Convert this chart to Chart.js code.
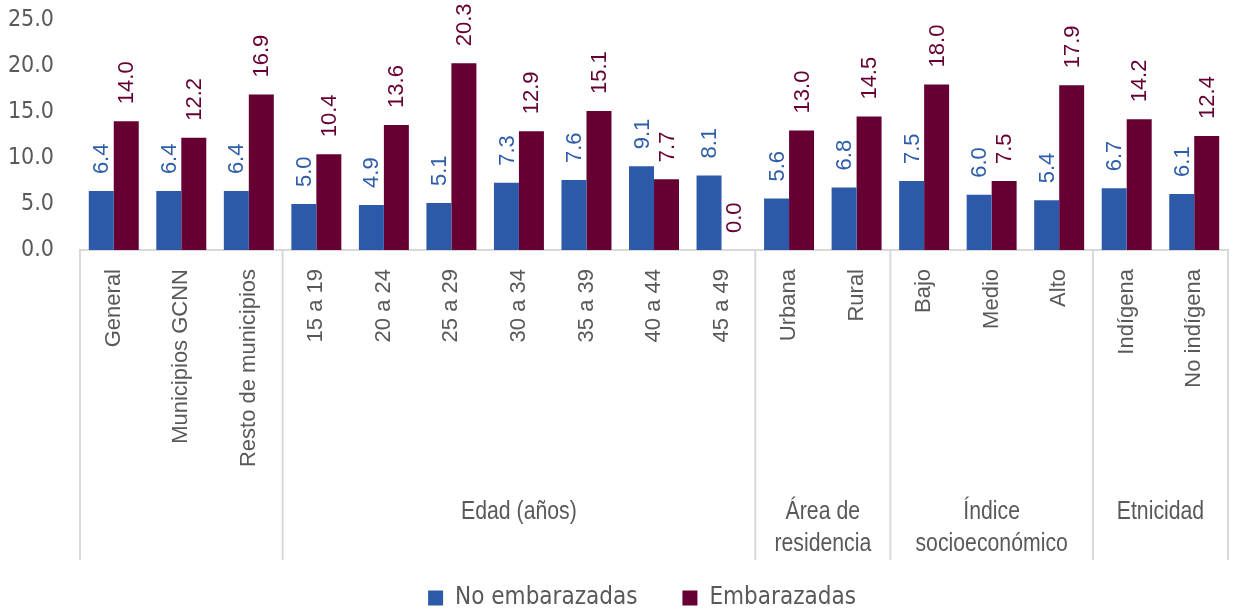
<!DOCTYPE html>
<html>
<head>
<meta charset="utf-8">
<script src="https://cdn.jsdelivr.net/npm/chart.js@4"></script>
<style>
  html, body { margin: 0; padding: 0; background: #fff; }
  #wrap { width: 1233px; height: 614px; }
</style>
</head>
<body>
<div id="wrap"><canvas id="chart" width="1233" height="614"></canvas></div>
<script>
// Categories and values
const categories = [
  "General", "Municipios GCNN", "Resto de municipios",
  "15 a 19", "20 a 24", "25 a 29", "30 a 34", "35 a 39", "40 a 44", "45 a 49",
  "Urbana", "Rural",
  "Bajo", "Medio", "Alto",
  "Indígena", "No indígena",
];
const noEmbarazadas = [6.4, 6.4, 6.4, 5.0, 4.9, 5.1, 7.3, 7.6, 9.1, 8.1, 5.6, 6.8, 7.5, 6.0, 5.4, 6.7, 6.1];
const embarazadas = [14.0, 12.2, 16.9, 10.4, 13.6, 20.3, 12.9, 15.1, 7.7, 0.0, 13.0, 14.5, 18.0, 7.5, 17.9, 14.2, 12.4];

// Groups under the category labels: first and last category index, label lines
const groupStarts = [0, 3, 10, 12, 15];
const groupEnds = [2, 9, 11, 14, 16];
const groupLabels = [[], ["Edad (años)"], ["Área de", "residencia"], ["Índice", "socioeconómico"], ["Etnicidad"]];

const BLUE = "#2c5aa8";
const MAROON = "#660033";
const GREY = "#595959";
const LINE = "#d9d9d9";
const NARROW = "'Liberation Sans Narrow', 'Arial Narrow', 'DejaVu Sans Condensed', sans-serif";
const REGULAR = "'Liberation Sans', Arial, sans-serif";

// Rotated value labels above each bar
const valueLabels = {
  id: "valueLabels",
  afterDatasetsDraw(chart) {
    const ctx = chart.ctx;
    chart.data.datasets.forEach((ds, di) => {
      const meta = chart.getDatasetMeta(di);
      meta.data.forEach((bar, i) => {
        ctx.save();
        ctx.translate(bar.x + 1, bar.y - 17);
        ctx.rotate(-Math.PI / 2);
        ctx.font = "22px " + REGULAR;
        ctx.fillStyle = ds.labelColor;
        ctx.textAlign = "left";
        ctx.textBaseline = "middle";
        ctx.fillText(ds.data[i].toFixed(1), 0, 0);
        ctx.restore();
      });
    });
  },
};

// Separator lines and group names below the axis
const groupAxis = {
  id: "groupAxis",
  afterLayout(chart) {
    // legend sits a little right of centre in the original
    chart.legend.left += 28;
    chart.legend.right += 28;
  },
  afterDraw(chart) {
    const ctx = chart.ctx;
    const x = chart.scales.x;
    const area = chart.chartArea;
    const bottom = area.bottom + 310;
    const edge = (i) => {
      if (i <= 0) return area.left;
      if (i >= categories.length) return area.right;
      return (x.getPixelForValue(i - 1) + x.getPixelForValue(i)) / 2;
    };
    ctx.save();
    ctx.strokeStyle = LINE;
    ctx.lineWidth = 2;
    const edges = [0, ...groupEnds.map((e) => e + 1)];
    edges.forEach((i) => {
      const px = edge(i);
      ctx.beginPath();
      ctx.moveTo(px, area.bottom);
      ctx.lineTo(px, bottom);
      ctx.stroke();
    });
    // narrow look: squeeze the regular face horizontally
    ctx.fillStyle = GREY;
    ctx.font = "25px " + REGULAR;
    ctx.textAlign = "center";
    ctx.textBaseline = "middle";
    groupLabels.forEach((lines, g) => {
      const cx = (edge(groupStarts[g]) + edge(groupEnds[g] + 1)) / 2;
      lines.forEach((t, k) => {
        ctx.save();
        ctx.translate(cx, area.bottom + 262 + k * 32);
        ctx.scale(0.85, 1);
        ctx.fillText(t, 0, 0);
        ctx.restore();
      });
    });
    ctx.restore();
  },
};

new Chart(document.getElementById("chart"), {
  type: "bar",
  data: {
    labels: categories,
    datasets: [
      {
        label: "No embarazadas",
        data: noEmbarazadas,
        backgroundColor: BLUE,
        labelColor: "#2e5eaa",
        categoryPercentage: 0.74,
        barPercentage: 1,
      },
      {
        label: "Embarazadas",
        data: embarazadas,
        backgroundColor: MAROON,
        labelColor: MAROON,
        categoryPercentage: 0.74,
        barPercentage: 1,
      },
    ],
  },
  options: {
    responsive: false,
    animation: false,
    layout: { padding: { top: 20, right: 5, bottom: -6, left: 0 } },
    plugins: {
      legend: {
        position: "bottom",
        labels: {
          boxWidth: 15,
          boxHeight: 15,
          padding: 45,
          color: GREY,
          font: { family: NARROW, size: 24 },
        },
      },
      tooltip: { enabled: false },
    },
    scales: {
      y: {
        min: 0,
        max: 25,
        afterFit(scale) {
          scale.width = 80;
          scale.paddingTop = 0;
          scale.paddingBottom = 0;
        },
        ticks: {
          stepSize: 5,
          padding: 18,
          color: GREY,
          font: { family: NARROW, size: 23 },
          callback: (v) => v.toFixed(1),
        },
        grid: { display: false },
        border: { display: false },
      },
      x: {
        afterFit(scale) {
          scale.height = 291;
        },
        ticks: {
          autoSkip: false,
          minRotation: 90,
          maxRotation: 90,
          padding: 11,
          color: GREY,
          font: { family: REGULAR, size: 22 },
        },
        grid: { display: false },
        border: { display: true, color: LINE, width: 2 },
      },
    },
  },
  plugins: [valueLabels, groupAxis],
});
</script>
</body>
</html>
